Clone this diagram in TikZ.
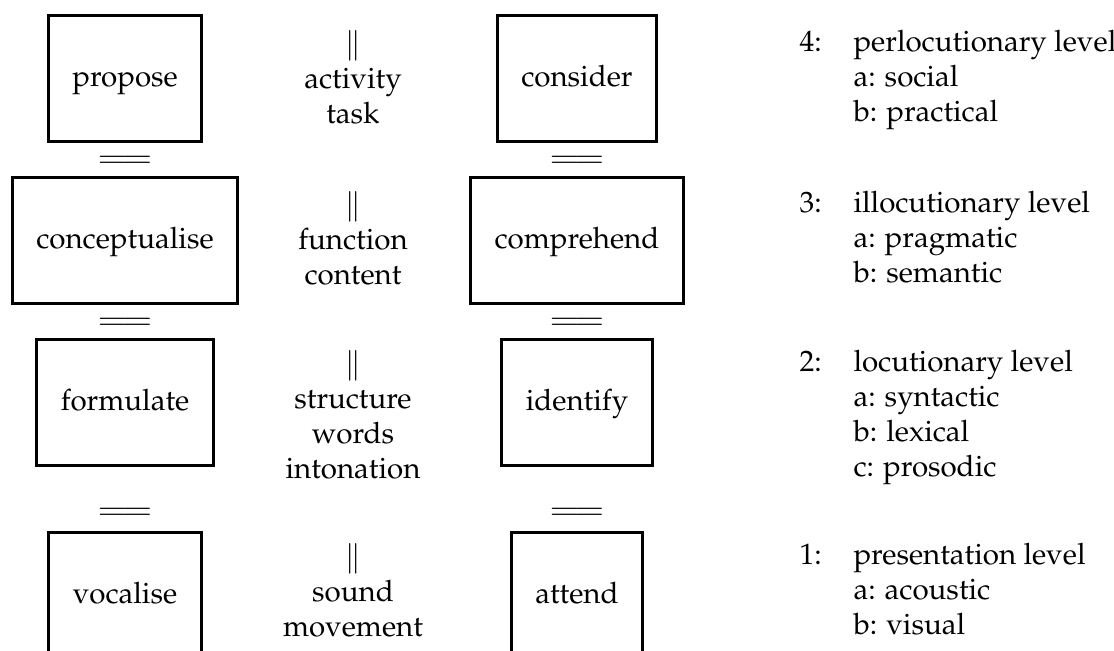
\documentclass[tikz,border=0pt]{standalone}
\usepackage[T1]{fontenc}
\usepackage{mathpazo}
\begin{document}
\begin{tikzpicture}[line cap=round, x=0.4pt, y=-0.4pt,
    font=\fontsize{11.8}{14}\selectfont,
    box/.style={draw=black, line width=1.2pt, inner xsep=9.6pt, inner ysep=0pt,
      text height=28.4pt, text depth=22pt, anchor=base},
    eqmark/.style={inner sep=0pt, xscale=1.25, transform shape},
    middle/.style={align=center, inner sep=0pt, anchor=north},
    level/.style={align=left, inner sep=0pt, anchor=north west},
    number/.style={inner sep=0pt, anchor=base west}]
\useasboundingbox (0, 0) rectangle (1114, 651);
% Speaker boxes
\foreach \w/\y [count=\x] in {propose/87, conceptualise/249, formulate/411, vocalise/604}
  \node [box] (speak-\x) at (125, \y) {\w};
% Hearer boxes
\foreach \w/\y [count=\x] in {consider/87, comprehend/249, identify/411, attend/604}
  \node [box] (hear-\x) at (577, \y) {\w};
% Marks between the boxes
\foreach \y [count=\x] in {162, 324, 514} {
  \node [eqmark] (eq-\x-1) at (125, \y) {$=\mathrel{\mkern-3mu}=$};
  \node [eqmark] (eq-\x-2) at (577, \y) {$=\mathrel{\mkern-3mu}=$};
}
% Middle column
\node [middle] (link-1) at (353, 29.5) {$\|$\\activity\\task};
\node [middle] (link-2) at (353, 190.5) {$\|$\\function\\content};
\node [middle] (link-3) at (353, 349.5) {$\|$\\structure\\words\\intonation};
\node [middle] (link-4) at (353, 542.5) {$\|$\\sound\\movement};
% Levels
\foreach \n/\y in {4/52, 3/213, 2/372, 1/565}
  \node [number] (num-\n) at (799, \y) {\n:};
\node [level] (level-4) at (853, 30) {perlocutionary level\\a: social\\b: practical};
\node [level] (level-3) at (853, 191) {illocutionary level\\a: pragmatic\\b: semantic};
\node [level] (level-2) at (853, 350) {locutionary level\\a: syntactic\\b: lexical\\c: prosodic};
\node [level] (level-1) at (853, 543) {presentation level\\a: acoustic\\b: visual};
\end{tikzpicture}
\end{document}
